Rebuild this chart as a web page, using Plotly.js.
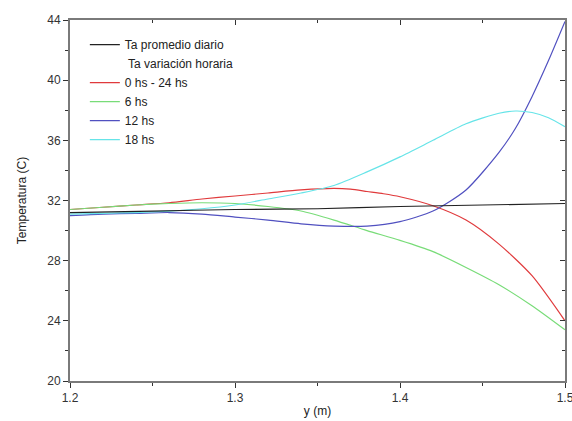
<!DOCTYPE html>
<html>
<head>
<meta charset="utf-8">
<script src="https://cdn.plot.ly/plotly-3.0.1.min.js"></script>
<style>html,body{margin:0;padding:0;background:#fff}#chart{width:572px;height:421px}</style>
</head>
<body>
<div id="chart"></div>
<script>
// Data
const xBlack = [1.20, 1.25, 1.30, 1.35, 1.40, 1.45, 1.50];
const yBlack = [31.2, 31.3, 31.4, 31.45, 31.6, 31.7, 31.8];

const xRed = [1.20, 1.22, 1.24, 1.26, 1.28, 1.30, 1.32, 1.34, 1.36, 1.37, 1.38, 1.39, 1.40, 1.42, 1.44, 1.46, 1.48, 1.50];
const yRed = [31.4, 31.55, 31.7, 31.85, 32.1, 32.3, 32.5, 32.7, 32.8, 32.75, 32.6, 32.45, 32.25, 31.65, 30.7, 29.1, 27.0, 24.0];

const xGreen = [1.20, 1.22, 1.24, 1.26, 1.28, 1.30, 1.32, 1.34, 1.36, 1.38, 1.40, 1.42, 1.44, 1.46, 1.48, 1.50];
const yGreen = [31.4, 31.55, 31.7, 31.8, 31.85, 31.8, 31.6, 31.3, 30.7, 30.0, 29.35, 28.6, 27.55, 26.4, 25.0, 23.4];

const xBlue = [1.20, 1.22, 1.24, 1.26, 1.28, 1.30, 1.32, 1.34, 1.36, 1.38, 1.40, 1.42, 1.44, 1.46, 1.47, 1.48, 1.49, 1.50];
const yBlue = [31.0, 31.1, 31.15, 31.2, 31.1, 30.9, 30.7, 30.45, 30.3, 30.3, 30.6, 31.3, 32.7, 35.2, 36.8, 38.9, 41.3, 43.9];

const xCyan = [1.20, 1.22, 1.24, 1.26, 1.28, 1.30, 1.32, 1.34, 1.36, 1.38, 1.40, 1.42, 1.44, 1.46, 1.47, 1.48, 1.49, 1.50];
const yCyan = [31.1, 31.15, 31.2, 31.3, 31.45, 31.7, 32.1, 32.5, 33.0, 33.9, 34.9, 36.0, 37.1, 37.8, 37.95, 37.85, 37.5, 36.9];

const names = ['Ta promedio diario', ' Ta variación horaria', '0 hs - 24 hs', '6 hs', '12 hs', '18 hs'];
const colors = ['#222222', 'rgba(0,0,0,0)', '#e03a3c', '#78dc78', '#5050c0', '#66e4e8'];

const xTickVals = [1.2, 1.3, 1.4, 1.5];
const xTickText = ['1.2', '1.3', '1.4', '1.5'];
const xRange = [1.2, 1.5];
const yRange = [20, 44];

function tr(x, y, i, onTop) {
  const t = {x: x, y: y, name: names[i], type: 'scatter', mode: 'lines',
          line: {color: colors[i], width: 1.2, shape: 'spline', smoothing: 0.7}};
  if (onTop) { t.xaxis = 'x2'; t.yaxis = 'y2'; }
  return t;
}

const data = [
  tr(xBlack, yBlack, 0, true),
  tr([null], [null], 1),
  tr(xRed, yRed, 2),
  tr(xGreen, yGreen, 3),
  tr(xBlue, yBlue, 4),
  tr(xCyan, yCyan, 5)
];

const axisLine = '#7a7a7a';
const font = {family: 'Liberation Sans, Arial, sans-serif', size: 12, color: '#333'};

const layout = {
  width: 572, height: 421,
  margin: {l: 70, r: 7, t: 20, b: 40},
  paper_bgcolor: '#fff', plot_bgcolor: '#fff',
  font: font,
  showlegend: true,
  legend: {x: 0.03, y: 0.972, xanchor: 'left', yanchor: 'top', bgcolor: 'rgba(0,0,0,0)',
           font: {family: 'Liberation Sans, Arial, sans-serif', size: 12, color: '#222'},
           tracegroupgap: 0},
  xaxis: {range: xRange, tickvals: xTickVals, ticktext: xTickText, ticklabeloverflow: 'allow',
          showgrid: false, zeroline: false,
          showline: true, linecolor: axisLine, linewidth: 2, ticks: 'outside', ticklen: 5, tickcolor: '#333',
          minor: {dtick: 0.05, tick0: 1.2, ticks: 'outside', ticklen: 3, tickcolor: '#333'},
          title: {text: 'y (m)', font: {size: 12, color: '#222'}, standoff: 2}},
  yaxis: {range: yRange, dtick: 4, tick0: 20, showgrid: false, zeroline: false, ticklabeloverflow: 'allow',
          showline: true, linecolor: axisLine, linewidth: 2, ticks: 'outside', ticklen: 5, tickcolor: '#333',
          minor: {dtick: 2, ticks: 'outside', ticklen: 3, tickcolor: '#333'},
          title: {text: 'Temperatura (C)', font: {size: 12, color: '#222'}, standoff: 18}},
  xaxis2: {overlaying: 'x', side: 'top', anchor: 'y2', range: xRange, tickvals: xTickVals,
           showticklabels: false, showgrid: false, zeroline: false, showline: true, linecolor: axisLine, linewidth: 2,
           ticks: 'inside', ticklen: 5, tickcolor: '#333',
           minor: {dtick: 0.05, tick0: 1.2, ticks: 'inside', ticklen: 3, tickcolor: '#333'}},
  yaxis2: {overlaying: 'y', side: 'right', anchor: 'x2', range: yRange, dtick: 4, tick0: 20,
           showticklabels: false, showgrid: false, zeroline: false, showline: true, linecolor: axisLine, linewidth: 2,
           ticks: 'inside', ticklen: 5, tickcolor: '#333',
           minor: {dtick: 2, ticks: 'inside', ticklen: 3, tickcolor: '#333'}}
};

Plotly.newPlot('chart', data, layout, {displayModeBar: false, staticPlot: true});
</script>
</body>
</html>
